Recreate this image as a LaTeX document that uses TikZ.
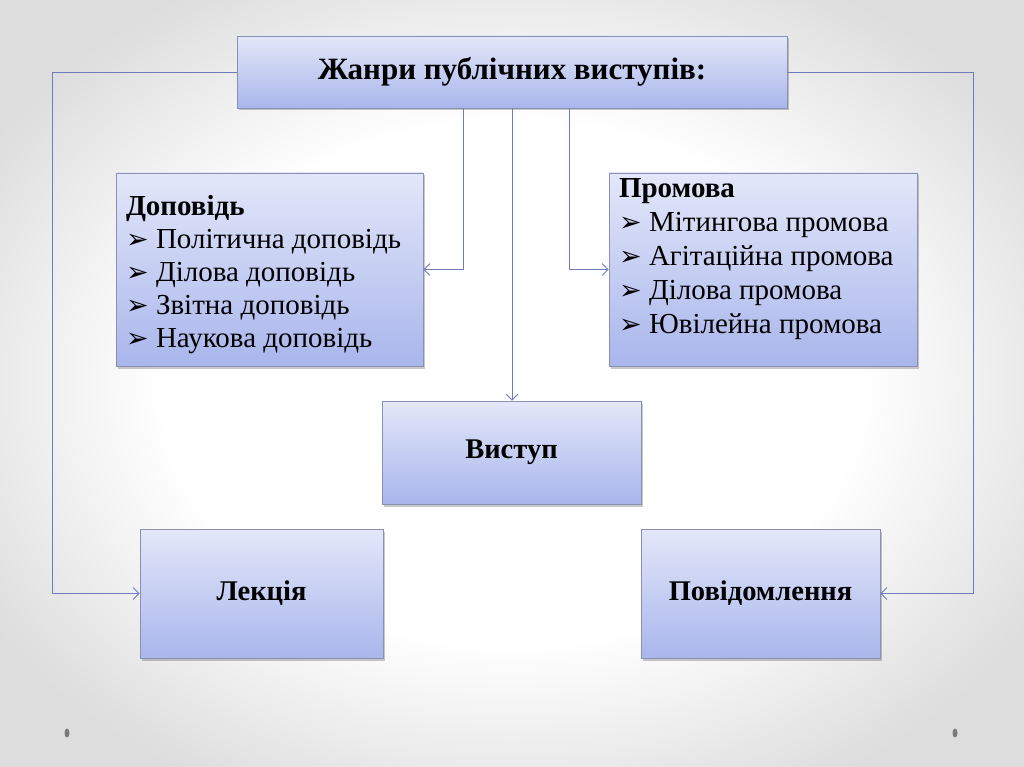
\documentclass[tikz,border=0pt]{standalone}
\usepackage{fontspec}
\setmainfont{Liberation Serif}
\newfontfamily\arrowfont{DejaVu Sans}
\usepackage{xcolor}
\definecolor{zhbgout}{HTML}{DDDDDD}
\definecolor{zhtop}{HTML}{E3E7F9}
\definecolor{zhbot}{HTML}{A9B6EC}
\definecolor{zhedge}{HTML}{8A90B4}
\definecolor{zhline}{HTML}{6F7BBF}
\definecolor{zhdot}{HTML}{7A7A7A}
\usepackage{tikz}
\usetikzlibrary{arrows.meta,positioning,shadows,calc}
\pgfdeclareradialshading{zhslide}{\pgfpoint{0bp}{0bp}}{color(0bp)=(white); color(17bp)=(white); color(30bp)=(zhbgout); color(50bp)=(zhbgout)}
\newcommand{\zhitem}[1]{\makebox[30pt][l]{\arrowfont\fontsize{27pt}{27pt}\selectfont ➢}#1}

\begin{document}
\begin{tikzpicture}[x=1pt,y=-1pt,
  zhbox/.style={draw=zhedge,line width=0.6pt,top color=zhtop,bottom color=zhbot,
    drop shadow={shadow xshift=2pt,shadow yshift=-2.5pt,opacity=0.3,fill=black!70},
    inner sep=0pt,font=\fontsize{28.5pt}{34pt}\selectfont\bfseries},
  zhlist/.style={zhbox,inner xsep=10pt,inner ysep=0pt,font=\fontsize{29pt}{33pt}\selectfont},
  zhlink/.style={draw=zhline,line width=0.9pt,-{Straight Barb[length=6pt,width=12pt]}}]
% slide background
\shade[shading=zhslide] (0,0) rectangle (1024,767);
\useasboundingbox (0,0) rectangle (1024,767);
\fill[zhdot] (67,733) ellipse (2.5 and 4.5);
\fill[zhdot] (955,733) ellipse (2.5 and 4.5);

\node[zhbox,minimum width=550pt,minimum height=72pt,font=\fontsize{31pt}{36pt}\selectfont\bfseries] (genres) at (512,72) {Жанри публічних виступів:};

\node[zhlist,minimum width=307pt,minimum height=193pt] (dopovid) at (269.5,269.5) {%
\begin{minipage}[c][193pt][c]{287pt}
\vspace*{10pt}
\textbf{Доповідь}\par
\zhitem{Політична доповідь}\par
\zhitem{Ділова доповідь}\par
\zhitem{Звітна доповідь}\par
\zhitem{Наукова доповідь}
\end{minipage}};

\node[zhlist,minimum width=308pt,minimum height=193pt] (promova) at (763,269.5) {%
\begin{minipage}[c][189pt][t]{288pt}
\fontsize{29pt}{34pt}\selectfont
\vspace*{4pt}
\textbf{Промова}\par
\zhitem{Мітингова промова}\par
\zhitem{Агітаційна промова}\par
\zhitem{Ділова промова}\par
\zhitem{Ювілейна промова}
\end{minipage}};

\node[zhbox,minimum width=259pt,minimum height=103pt] (vystup) at (511.5,452.5) {Виступ};
\node[zhbox,minimum width=243pt,minimum height=129pt] (lekcia) at (261.5,593.5) {Лекція};
\node[zhbox,minimum width=239pt,minimum height=129pt] (povid) at (760.5,593.5) {Повідомлення};

\coordinate (lturn) at (52,72);
\coordinate (rturn) at (973,72);
\draw[zhlink] (genres.west) -- (lturn) |- (lekcia.west);
\draw[zhlink] (genres.east) -- (rturn) |- (povid.east);
\draw[zhlink] ($(genres.south)+(-49,0)$) |- (dopovid.east);
\draw[zhlink] ($(genres.south)+(57,0)$) |- (promova.west);
\draw[zhlink] (genres.south) -- (genres.south |- vystup.north);
\end{tikzpicture}
\end{document}
